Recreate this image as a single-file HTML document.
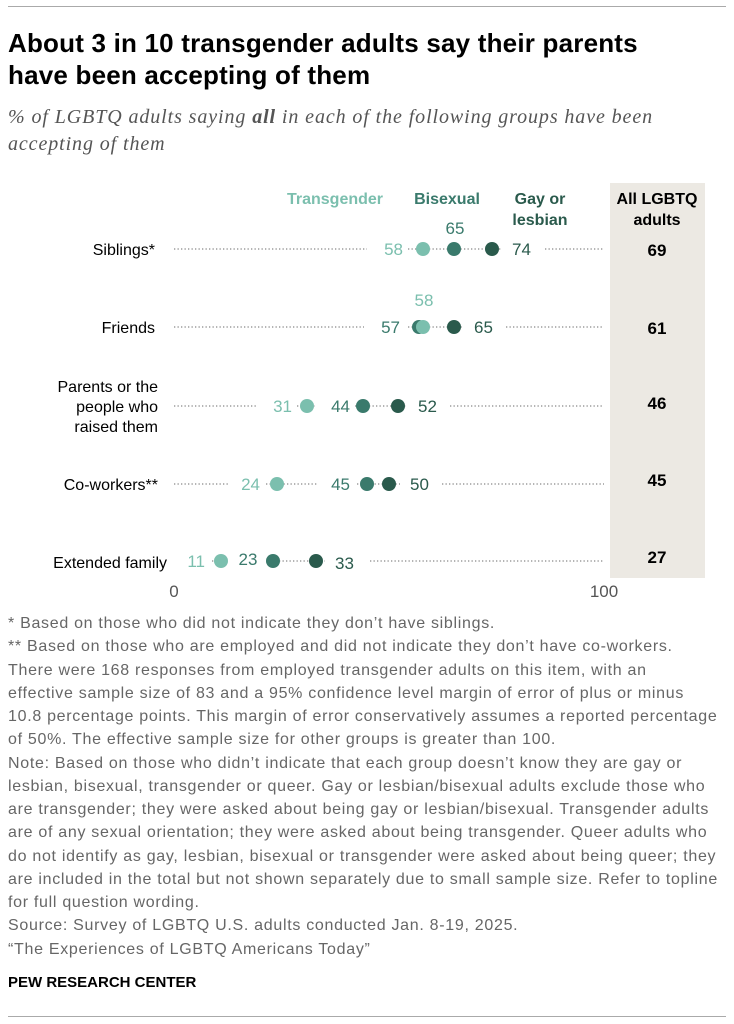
<!DOCTYPE html>
<html><head><meta charset="utf-8"><style>
body{margin:0;background:#fff;width:734px;height:1024px;position:relative;font-family:"Liberation Sans",sans-serif;overflow:hidden}
.rule{position:absolute;left:8px;right:8px;height:1px;background:#aaa}
h1{position:absolute;left:8px;top:27px;margin:0;font-size:26px;line-height:32px;font-weight:bold;color:#000;width:680px;letter-spacing:0.2px}
.sub{position:absolute;left:8px;top:104px;font-family:"Liberation Serif",serif;font-style:italic;font-size:20px;line-height:27px;color:#555;width:690px;letter-spacing:0.9px}
.notes{position:absolute;left:8px;top:612px;font-size:16px;line-height:23.25px;color:#666;white-space:nowrap;letter-spacing:0.7px}
.pew{position:absolute;left:8px;top:974px;font-size:15px;font-weight:bold;color:#000}
svg{position:absolute;left:0;top:0}
</style></head><body>
<div class="rule" style="top:6px"></div>
<h1>About 3 in 10 transgender adults say their parents have been accepting of them</h1>
<div class="sub">% of LGBTQ adults saying <b>all</b> in each of the following groups have been accepting of them</div>
<svg width="734" height="620" font-family="Liberation Sans, sans-serif">
<rect x="610" y="183" width="95" height="395" fill="#ece9e3"/>
<g font-weight="bold" font-size="16">
<text x="335" y="204" text-anchor="middle" fill="#7bbfae">Transgender</text>
<text x="447" y="204" text-anchor="middle" fill="#3a7a6c">Bisexual</text>
<text x="540" y="204" text-anchor="middle" fill="#2a5a4c">Gay or</text>
<text x="540" y="225" text-anchor="middle" fill="#2a5a4c">lesbian</text>
<text x="657" y="204" text-anchor="middle" fill="#000">All LGBTQ</text>
<text x="657" y="225" text-anchor="middle" fill="#000">adults</text>
</g>
<g stroke="#888" stroke-width="1.3" stroke-dasharray="1.3 2.2">
<line x1="174" y1="249" x2="367" y2="249"/><line x1="408" y1="249" x2="502" y2="249"/><line x1="545" y1="249" x2="604" y2="249"/>
<line x1="174" y1="327" x2="364" y2="327"/><line x1="408" y1="327" x2="462" y2="327"/><line x1="506" y1="327" x2="604" y2="327"/>
<line x1="174" y1="406" x2="258" y2="406"/><line x1="297" y1="406" x2="315" y2="406"/><line x1="355" y1="406" x2="407" y2="406"/><line x1="450" y1="406" x2="604" y2="406"/>
<line x1="174" y1="484" x2="228" y2="484"/><line x1="266" y1="484" x2="317" y2="484"/><line x1="357" y1="484" x2="400" y2="484"/><line x1="442" y1="484" x2="604" y2="484"/>
<line x1="212" y1="561" x2="228" y2="561"/><line x1="272" y1="561" x2="325" y2="561"/><line x1="370" y1="561" x2="604" y2="561"/>
</g>
<g font-size="16" fill="#000">
<text x="155" y="255" text-anchor="end">Siblings*</text>
<text x="155" y="333" text-anchor="end">Friends</text>
<text x="158" y="392" text-anchor="end">Parents or the</text>
<text x="158" y="412" text-anchor="end">people who</text>
<text x="158" y="432" text-anchor="end">raised them</text>
<text x="158" y="490" text-anchor="end">Co-workers**</text>
<text x="167" y="568" text-anchor="end">Extended family</text>
</g>
<g font-size="17">
<text x="403" y="255" text-anchor="end" fill="#7bbfae">58</text><text x="455" y="234" text-anchor="middle" fill="#3a7a6c">65</text><text x="512" y="255" fill="#2a5a4c">74</text>
<text x="424" y="306" text-anchor="middle" fill="#7bbfae">58</text><text x="400" y="333" text-anchor="end" fill="#3a7a6c">57</text><text x="474" y="333" fill="#2a5a4c">65</text>
<text x="292" y="412" text-anchor="end" fill="#7bbfae">31</text><text x="350" y="412" text-anchor="end" fill="#3a7a6c">44</text><text x="418" y="412" fill="#2a5a4c">52</text>
<text x="260" y="490" text-anchor="end" fill="#7bbfae">24</text><text x="350" y="490" text-anchor="end" fill="#3a7a6c">45</text><text x="410" y="490" fill="#2a5a4c">50</text>
<text x="205" y="567" text-anchor="end" fill="#7bbfae">11</text><text x="248" y="565" text-anchor="middle" fill="#3a7a6c">23</text><text x="335" y="569" fill="#2a5a4c">33</text>
</g>
<g>
<circle cx="423" cy="249" r="7" fill="#7bbfae"/><circle cx="454" cy="249" r="7" fill="#3a7a6c"/><circle cx="492" cy="249" r="7" fill="#2a5a4c"/>
<circle cx="419" cy="327" r="7" fill="#3a7a6c"/><circle cx="423" cy="327" r="7" fill="#7bbfae"/><circle cx="454" cy="327" r="7" fill="#2a5a4c"/>
<circle cx="307" cy="406" r="7" fill="#7bbfae"/><circle cx="363" cy="406" r="7" fill="#3a7a6c"/><circle cx="398" cy="406" r="7" fill="#2a5a4c"/>
<circle cx="277" cy="484" r="7" fill="#7bbfae"/><circle cx="367" cy="484" r="7" fill="#3a7a6c"/><circle cx="389" cy="484" r="7" fill="#2a5a4c"/>
<circle cx="221" cy="561" r="7" fill="#7bbfae"/><circle cx="273" cy="561" r="7" fill="#3a7a6c"/><circle cx="316" cy="561" r="7" fill="#2a5a4c"/>
</g>
<g font-size="17" font-weight="bold" text-anchor="middle" fill="#000">
<text x="657" y="256">69</text><text x="657" y="334">61</text><text x="657" y="409">46</text><text x="657" y="486">45</text><text x="657" y="563">27</text>
</g>
<g font-size="17" fill="#555" text-anchor="middle"><text x="174" y="597">0</text><text x="604" y="597">100</text></g>
</svg>
<div class="notes">* Based on those who did not indicate they don’t have siblings.<br>** Based on those who are employed and did not indicate they don’t have co-workers.<br>There were 168 responses from employed transgender adults on this item, with an<br>effective sample size of 83 and a 95% confidence level margin of error of plus or minus<br>10.8 percentage points. This margin of error conservatively assumes a reported percentage<br>of 50%. The effective sample size for other groups is greater than 100.<br>Note: Based on those who didn’t indicate that each group doesn’t know they are gay or<br>lesbian, bisexual, transgender or queer. Gay or lesbian/bisexual adults exclude those who<br>are transgender; they were asked about being gay or lesbian/bisexual. Transgender adults<br>are of any sexual orientation; they were asked about being transgender. Queer adults who<br>do not identify as gay, lesbian, bisexual or transgender were asked about being queer; they<br>are included in the total but not shown separately due to small sample size. Refer to topline<br>for full question wording.<br>Source: Survey of LGBTQ U.S. adults conducted Jan. 8-19, 2025.<br>“The Experiences of LGBTQ Americans Today”</div>
<div class="pew">PEW RESEARCH CENTER</div>
<div class="rule" style="top:1016px"></div>
</body></html>
